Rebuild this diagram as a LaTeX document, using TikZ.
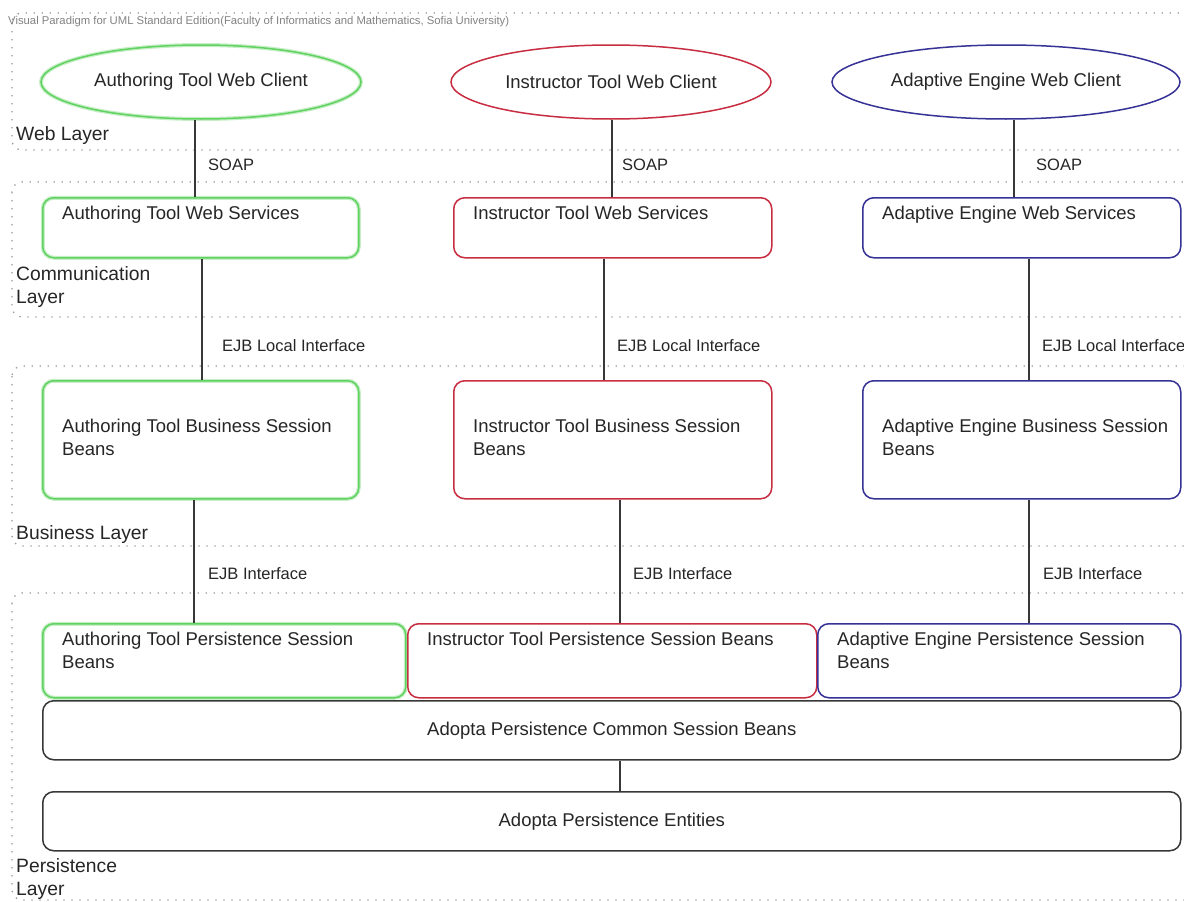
\documentclass[tikz,border=0pt]{standalone}
\usepackage{fontspec}
\setmainfont{Liberation Sans}
\usetikzlibrary{shapes.geometric}
\definecolor{cgreen}{RGB}{95,210,95}
\definecolor{cred}{RGB}{200,45,65}
\definecolor{cblue}{RGB}{55,50,150}
\definecolor{cdark}{RGB}{55,55,55}
\definecolor{cdots}{RGB}{150,150,150}
\definecolor{chead}{RGB}{130,130,130}
\begin{document}
\begin{tikzpicture}[x=1pt,y=-1pt,
  layerframe/.style={draw=cdots, line width=1.3pt, dash pattern=on 1.3pt off 6.7pt, rounded corners=10pt},
  layerlabel/.style={anchor=base west, inner sep=0pt, align=left, font=\fontsize{19.3}{23}\selectfont, text=black!85},
  hdr/.style={anchor=base west, inner sep=0pt, font=\fontsize{11.3}{13}\selectfont, text=chead},
  client/.style={ellipse, draw, line width=1.5pt, minimum width=320pt, minimum height=74pt, inner sep=0pt, font=\fontsize{18.5}{23}\selectfont, text=black!85},
  glow/.style={preaction={draw=#1!35, line width=4pt}},
  box/.style={draw, rectangle, rounded corners=11pt, line width=1.5pt, anchor=north west, inner sep=0pt},
  boxtext/.style={anchor=base west, inner sep=0pt, align=left, font=\fontsize{18.5}{23}\selectfont, text=black!85},
  wide/.style={box, draw=cdark, minimum width=1138pt, minimum height=59pt, font=\fontsize{18.5}{23}\selectfont, text=black!85},
  conn/.style={draw=cdark, line width=1.5pt},
  clabel/.style={anchor=west, inner sep=0pt, font=\fontsize{16.5}{20}\selectfont, text=black!85}
  ]
\useasboundingbox (0,0) rectangle (1184,902);
\clip (0,0) rectangle (1184,902);
\fill[white] (0,0) rectangle (1184,902);

% layer frames
\draw[layerframe] (12,13) rectangle (1230,150);
\draw[layerframe] (12,182) rectangle (1230,317);
\draw[layerframe] (12,366) rectangle (1230,546);
\draw[layerframe] (12,593) rectangle (1230,900);

\node[hdr] (hdr) at (8,24) {Visual Paradigm for UML Standard Edition(Faculty of Informatics and Mathematics, Sofia University)};

% layer labels (base = baseline of last line)
\node[layerlabel] (lweb) at (16,140) {Web Layer};
\node[layerlabel] (lcom) at (16,303) {Communication\\Layer};
\node[layerlabel] (lbus) at (16,539) {Business Layer};
\node[layerlabel] (lper) at (16,895) {Persistence\\Layer};

% clients
\node[client, draw=cgreen, glow=cgreen] (ellA) at (201,82) {Authoring Tool Web Client};
\node[client, draw=cred] (ellI) at (611,82) {Instructor Tool Web Client};
\node[client, draw=cblue, minimum width=348pt] (ellE) at (1006,82) {Adaptive Engine Web Client};

% web services
\node[box, draw=cgreen, glow=cgreen, minimum width=316pt, minimum height=60pt] (wsA) at (42,197) {};
\node[box, draw=cred, minimum width=318pt, minimum height=60pt] (wsI) at (453,197) {};
\node[box, draw=cblue, minimum width=318pt, minimum height=60pt] (wsE) at (862,197) {};
\node[boxtext] (twsA) at (62,219) {Authoring Tool Web Services};
\node[boxtext] (twsI) at (473,219) {Instructor Tool Web Services};
\node[boxtext] (twsE) at (882,219) {Adaptive Engine Web Services};

% business
\node[box, draw=cgreen, glow=cgreen, minimum width=316pt, minimum height=118pt] (busA) at (42,380) {};
\node[box, draw=cred, minimum width=318pt, minimum height=118pt] (busI) at (453,380) {};
\node[box, draw=cblue, minimum width=318pt, minimum height=118pt] (busE) at (862,380) {};
\node[boxtext] (tbusA) at (62,455) {Authoring Tool Business Session\\Beans};
\node[boxtext] (tbusI) at (473,455) {Instructor Tool Business Session\\Beans};
\node[boxtext] (tbusE) at (882,455) {Adaptive Engine Business Session\\Beans};

% persistence session beans
\node[box, draw=cgreen, glow=cgreen, minimum width=363pt, minimum height=74pt] (perA) at (42,623) {};
\node[box, draw=cred, minimum width=409pt, minimum height=74pt] (perI) at (407,623) {};
\node[box, draw=cblue, minimum width=363pt, minimum height=74pt] (perE) at (817,623) {};
\node[boxtext] (tperA) at (62,668) {Authoring Tool Persistence Session\\Beans};
\node[boxtext] (tperI) at (427,645) {Instructor Tool Persistence Session Beans};
\node[boxtext] (tperE) at (837,668) {Adaptive Engine Persistence Session\\Beans};

\node[wide] (common) at (42,700) {Adopta Persistence Common Session Beans};
\node[wide] (entities) at (42,791) {Adopta Persistence Entities};

% connector x positions
\coordinate (xA1) at (195,0);
\coordinate (xA2) at (202,0);
\coordinate (xA3) at (194,0);
\coordinate (xI1) at (612,0);
\coordinate (xI2) at (604,0);
\coordinate (xI3) at (620,0);
\coordinate (xE1) at (1014,0);
\coordinate (xE2) at (1029,0);
\coordinate (xE3) at (1029,0);
\coordinate (xC) at (620,0);

\draw[conn] (ellA.south -| xA1) -- (wsA.north -| xA1);
\draw[conn] (ellI.south -| xI1) -- (wsI.north -| xI1);
\draw[conn] (ellE.south -| xE1) -- (wsE.north -| xE1);
\draw[conn] (wsA.south -| xA2) -- (busA.north -| xA2);
\draw[conn] (wsI.south -| xI2) -- (busI.north -| xI2);
\draw[conn] (wsE.south -| xE2) -- (busE.north -| xE2);
\draw[conn] (busA.south -| xA3) -- (perA.north -| xA3);
\draw[conn] (busI.south -| xI3) -- (perI.north -| xI3);
\draw[conn] (busE.south -| xE3) -- (perE.north -| xE3);
\draw[conn] (common.south -| xC) -- (entities.north -| xC);

% connector labels
\node[clabel] (sA) at (208,165) {SOAP};
\node[clabel] (sI) at (622,165) {SOAP};
\node[clabel] (sE) at (1036,165) {SOAP};
\node[clabel] (eA) at (222,346) {EJB Local Interface};
\node[clabel] (eI) at (617,346) {EJB Local Interface};
\node[clabel] (eE) at (1042,346) {EJB Local Interface};
\node[clabel] (iA) at (208,574) {EJB Interface};
\node[clabel] (iI) at (633,574) {EJB Interface};
\node[clabel] (iE) at (1043,574) {EJB Interface};
\end{tikzpicture}
\end{document}
